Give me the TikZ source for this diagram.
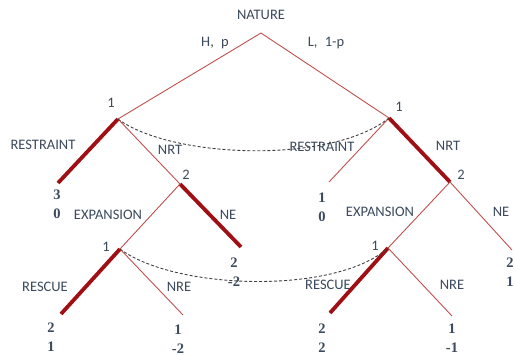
\documentclass[tikz,border=0pt]{standalone}
\usepackage{fontspec}
\setmainfont{Carlito}
\newfontfamily\payfont{Liberation Serif}
\definecolor{tred}{HTML}{C0504D}
\definecolor{kred}{HTML}{A00F14}
\definecolor{labcol}{HTML}{3B4A5C}
\begin{document}
\begin{tikzpicture}[x=1pt,y=-1pt,
  tline/.style={draw=tred, line width=0.9pt},
  kline/.style={draw=kred, line width=3.8pt},
  lab/.style={text=labcol, font=\fontsize{14.5}{17}\selectfont, inner sep=0pt},
  pay/.style={text=labcol, font=\payfont\bfseries\fontsize{14.5}{19}\selectfont, align=center, inner sep=0pt},
  info/.style={draw=black!75, dashed, dash pattern=on 3pt off 2pt, line width=0.9pt}]
\useasboundingbox (0,0) rectangle (515,356);
% decision nodes
\coordinate (root) at (261,33);
\coordinate (L1) at (118,119);
\coordinate (R1) at (389,118);
\coordinate (L2) at (180,184);
\coordinate (R2) at (450,182);
\coordinate (L3) at (120,249);
\coordinate (R3) at (388,248);
% leaf ends
\coordinate (Lres) at (58,183);
\coordinate (Lne) at (241,247);
\coordinate (Lresc) at (61,314);
\coordinate (Lnre) at (183,315);
\coordinate (Rres) at (329,182);
\coordinate (Rne) at (512,250);
\coordinate (Rresc) at (330,313);
\coordinate (Rnre) at (452,316);
% edges
\draw[tline] (root) -- (L1);
\draw[tline] (root) -- (R1);
\draw[kline] (L1) -- (Lres);
\draw[tline] (L1) -- (L2);
\draw[kline] (L2) -- (Lne);
\draw[tline] (L2) -- (L3);
\draw[kline] (L3) -- (Lresc);
\draw[tline] (L3) -- (Lnre);
\draw[tline] (R1) -- (Rres);
\draw[kline] (R1) -- (R2);
\draw[tline] (R2) -- (R3);
\draw[tline] (R2) -- (Rne);
\draw[kline] (R3) -- (Rresc);
\draw[tline] (R3) -- (Rnre);
% information sets
\draw[info] (L1) .. controls (170,158) and (330,165) .. (R1);
\draw[info] (L3) .. controls (175,290) and (335,295) .. (R3);
% labels
\node[lab] (nat) at (261,15) {NATURE};
\node[lab] (hp) at (215,43) {H,\enspace p};
\node[lab] (lp) at (326,43) {L,\enspace 1-p};
\node[lab] (n1) at (111,103) {1};
\node[lab] (n2) at (399,107) {1};
\node[lab] (n3) at (186,175) {2};
\node[lab] (n4) at (461,175) {2};
\node[lab] (n5) at (106,247) {1};
\node[lab] (n6) at (375,246) {1};
\node[lab] (a1) at (43,145) {RESTRAINT};
\node[lab] (a2) at (170,150) {NRT};
\node[lab] (a3) at (322,147) {RESTRAINT};
\node[lab] (a4) at (448,146) {NRT};
\node[lab] (a5) at (108,215) {EXPANSION};
\node[lab] (a6) at (228,215) {NE};
\node[lab] (a7) at (380,212) {EXPANSION};
\node[lab] (a8) at (501,212) {NE};
\node[lab] (a9) at (45,287) {RESCUE};
\node[lab] (a10) at (179,287) {NRE};
\node[lab] (a11) at (328,285) {RESCUE};
\node[lab] (a12) at (452,285) {NRE};
% payoffs
\node[pay] (p1) at (57,204) {3\\0};
\node[pay] (p2) at (322,207) {1\\0};
\node[pay] (p3) at (234,272) {2\\-2};
\node[pay] (p4) at (510,272) {2\\1};
\node[pay] (p5) at (51,337) {2\\1};
\node[pay] (p6) at (178,339) {1\\-2};
\node[pay] (p7) at (322,338) {2\\2};
\node[pay] (p8) at (452,338) {1\\-1};
\end{tikzpicture}
\end{document}
